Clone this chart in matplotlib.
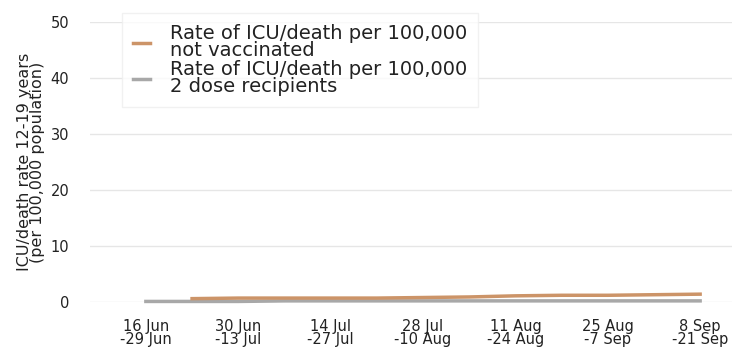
import matplotlib
matplotlib.use("Agg")
import matplotlib.pyplot as plt
import numpy as np

plt.rcParams['font.family'] = ['DejaVu Sans']

# weekly periods, tick labels every two weeks
week_idx = list(range(13))
tick_pos = [0, 2, 4, 6, 8, 10, 12]
tick_labels = ['16 Jun\n-29 Jun', '30 Jun\n-13 Jul', '14 Jul\n-27 Jul', '28 Jul\n-10 Aug',
               '11 Aug\n-24 Aug', '25 Aug\n-7 Sep', '8 Sep\n-21 Sep']

not_vacc = [np.nan, 0.6, 0.7, 0.7, 0.7, 0.7, 0.8, 0.9, 1.1, 1.2, 1.2, 1.3, 1.4]
two_dose = [0.1, 0.1, 0.1, 0.2, 0.2, 0.2, 0.2, 0.2, 0.2, 0.2, 0.2, 0.2, 0.2]

fig = plt.figure(figsize=(7.37, 3.62), dpi=100)
ax = fig.add_axes([90 / 737, 60 / 362, 642 / 737, 280 / 362])

ax.plot(week_idx, two_dose, color='#a8a8a8', linewidth=2.5, clip_on=False,
        label='Rate of ICU/death per 100,000\n2 dose recipients', zorder=2)
ax.plot(week_idx, not_vacc, color='#cc9468', linewidth=2.5, clip_on=False,
        label='Rate of ICU/death per 100,000\nnot vaccinated', zorder=3)

ax.set_ylim(0, 50)
ax.set_xlim(-1.21, 12.69)
ax.set_yticks([0, 10, 20, 30, 40, 50])
ax.set_xticks(tick_pos)
ax.set_xticklabels(tick_labels, fontsize=10.5, linespacing=0.9)
ax.tick_params(axis='y', labelsize=10.5, length=0, pad=15, colors='#222222')
ax.tick_params(axis='x', length=0, pad=12, colors='#222222')
ax.grid(axis='y', color='#e6e6e6', linewidth=1)
ax.set_axisbelow(True)
for s in ax.spines.values():
    s.set_visible(False)

ax.set_ylabel('ICU/death rate 12-19 years\n(per 100,000 population)', fontsize=11.5,
              linespacing=0.8, labelpad=4, color='#222222')

handles, labels = ax.get_legend_handles_labels()
leg = ax.legend(handles[::-1], labels[::-1], loc='upper left', bbox_to_anchor=(0.05, 1.032),
                borderaxespad=0, fontsize=14, frameon=True, handlelength=0.9,
                handletextpad=1.0, labelspacing=0.0, borderpad=0.55, fancybox=False,
                edgecolor='#eeeeee', labelcolor='#222222')
for t in leg.get_texts():
    t.set_linespacing(0.88)
leg.get_frame().set_linewidth(1)

fig.savefig('out.png', dpi=100)
